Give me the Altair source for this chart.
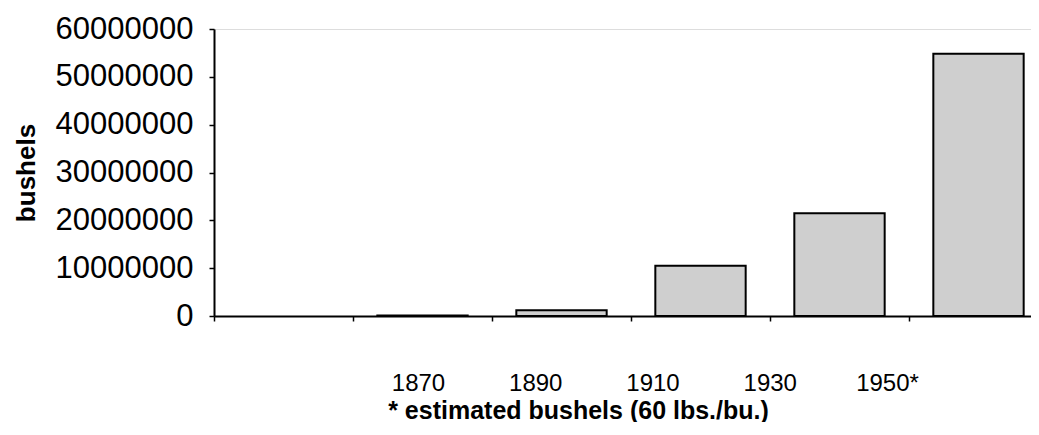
import altair as alt
import pandas as pd

# Data
slots = ["", "1870", "1890", "1910", "1930", "1950*"]
years = ["1870", "1890", "1910", "1930", "1950*"]
bushels = [100000, 1200000, 10500000, 21500000, 54800000]
y_ticks = [0, 10000000, 20000000, 30000000, 40000000, 50000000, 60000000]

df = pd.DataFrame({"year": years, "bushels": bushels})

FONT = "Liberation Sans"
RANGE = [0, 834]
LABEL_RANGE = [204, 673]

bars = alt.Chart(df).mark_bar(
    fill="#cfcfcf", stroke="black", strokeWidth=2,
    width=alt.RelativeBandSize(0.65)
).encode(
    x=alt.X("year:N",
            scale=alt.Scale(domain=slots, paddingInner=0, paddingOuter=0, range=RANGE),
            axis=alt.Axis(labels=False, title="", bandPosition=0, domainColor="black",
                          domainWidth=2, tickColor="black", tickWidth=1.5, tickSize=5,
                          grid=False)),
    y=alt.Y("bushels:Q",
            scale=alt.Scale(domain=[0, 60000000], nice=False),
            axis=alt.Axis(values=y_ticks, format="d", title="bushels",
                          titleFont=FONT, titleFontSize=26, titleFontWeight="bold",
                          titleColor="black", titlePadding=16,
                          labelFont=FONT, labelFontSize=31, labelColor="black",
                          labelPadding=16, tickSize=5, tickColor="black", tickWidth=1.5,
                          domainColor="black", domainWidth=2, grid=False)),
)

labels = alt.Chart(df).mark_point(opacity=0, size=1).encode(
    x=alt.X("year:N",
            scale=alt.Scale(type="point", domain=years, padding=0, range=LABEL_RANGE),
            axis=alt.Axis(orient="bottom", domain=False, ticks=False, labelAngle=0,
                          labelFont=FONT, labelFontSize=24, labelColor="black",
                          labelPadding=55,
                          title="* estimated bushels (60 lbs./bu.)",
                          titleFont=FONT, titleFontSize=25, titleFontWeight="bold",
                          titleColor="black", titlePadding=3, titleX=364,
                          titleAlign="center", grid=False)),
)

chart = alt.layer(bars, labels).resolve_scale(x="independent").resolve_axis(
    x="independent"
).properties(
    width=817, height=287,
    autosize=alt.AutoSizeParams(type="none"),
    padding={"left": 206, "top": 21, "right": 0, "bottom": 106},
).configure_view(stroke=None).configure(background="white")

chart.save("out.html", embed_options={"renderer": "svg", "actions": False})
